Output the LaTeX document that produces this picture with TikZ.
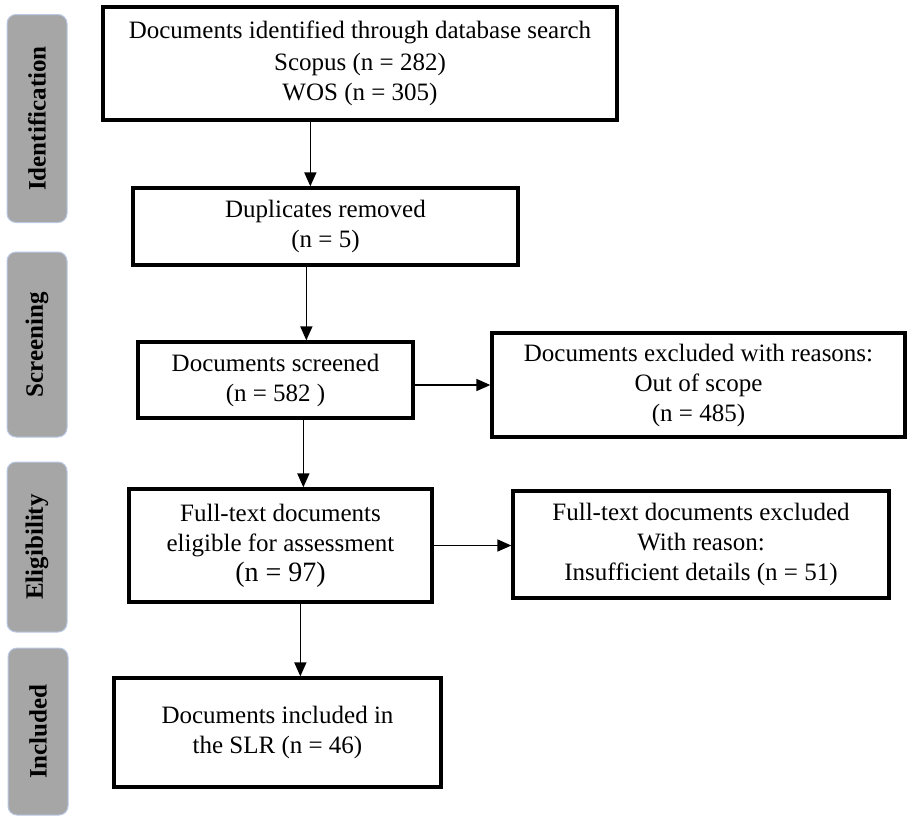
\documentclass[tikz,border=0pt]{standalone}
\usepackage{fontspec}
\setmainfont{Liberation Serif}
\usetikzlibrary{arrows.meta}
\definecolor{phasefill}{RGB}{166,166,166}
\definecolor{phaseedge}{RGB}{185,200,228}
\tikzset{
  box/.style={draw=black, line width=3.3pt, fill=white, align=center,
    inner sep=0pt, font=\fontsize{25}{30}\selectfont},
  phase/.style={draw=phaseedge, line width=1pt, fill=phasefill, rounded corners=9pt,
    minimum width=60pt, inner sep=0pt},
  phasetext/.style={rotate=90, font=\fontsize{25}{28}\selectfont\bfseries},
  arr/.style={line width=1.6pt, -{Triangle[length=14pt,width=12pt]}},
}
\begin{document}
\begin{tikzpicture}[x=1pt,y=-1pt]
\useasboundingbox (0,0) rectangle (909,819);
% phase labels
\node[phase, minimum height=208pt] (pid) at (37,118.5) {};
\node[phasetext] (tid) at (pid.center) {Identification};
\node[phase, minimum height=185pt] (psc) at (37,344.5) {};
\node[phasetext] (tsc) at (psc.center) {Screening};
\node[phase, minimum height=170pt] (pel) at (37,547) {};
\node[phasetext] (tel) at (pel.center) {Eligibility};
\node[phase, minimum height=167pt] (pin) at (38,731.5) {};
\node[phasetext] (tin) at (pin.center) {Included};
% boxes
\node[box, minimum width=514pt, minimum height=113pt] (b1) at (360,63.5)
  {Documents identified through database search\\[2pt] Scopus (n = 282)\\ WOS (n = 305)};
\node[box, minimum width=385pt, minimum height=77pt] (b2) at (325.5,226.5)
  {Duplicates removed\\ (n = 5)};
\node[box, minimum width=275pt, minimum height=76pt] (b3) at (275.5,380)
  {Documents screened\\ (n = 582 )};
\node[box, minimum width=413pt, minimum height=104pt] (b4) at (698.5,385)
  {Documents excluded with reasons:\\ Out of scope\\ (n = 485)};
\node[box, minimum width=303pt, minimum height=113pt] (b5) at (280.5,545.5)
  {Full-text documents\\ eligible for assessment\\ {\fontsize{28}{30}\selectfont(n = 97)}};
\node[box, minimum width=376pt, minimum height=107pt] (b6) at (701,544.5)
  {Full-text documents excluded\\ With reason:\\ Insufficient details (n = 51)};
\node[box, minimum width=327pt, minimum height=109pt] (b7) at (277.5,732.5)
  {Documents included in\\ the SLR (n = 46)};
% connectors
\draw[arr] ([xshift=209pt]b1.south west) -- ([xshift=179pt]b2.north west);
\draw[arr] ([xshift=175pt]b2.south west) -- ([xshift=170pt]b3.north west);
\draw[arr] ([xshift=167pt]b3.south west) -- ([xshift=176pt]b5.north west);
\draw[arr] ([xshift=173pt]b5.south west) -- ([xshift=188pt]b7.north west);
\draw[arr] (b4.west -| b3.east) -- (b4.west);
\draw[arr] (b5.east) -- (b5.east -| b6.west);
\end{tikzpicture}
\end{document}
